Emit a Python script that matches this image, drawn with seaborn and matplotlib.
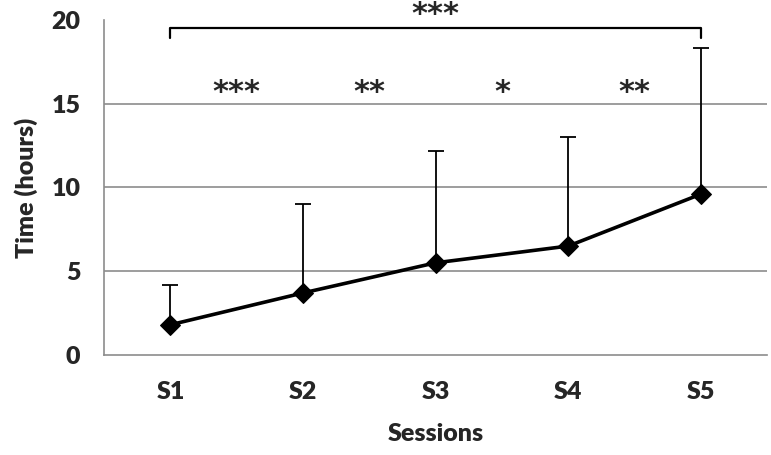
import numpy as np
import pandas as pd
import matplotlib
matplotlib.use("Agg")
import matplotlib.pyplot as plt
import seaborn as sns

# data
sessions = ["S1", "S2", "S3", "S4", "S5"]
mean_hours = [1.8, 3.7, 5.5, 6.5, 9.6]
upper_hours = [4.2, 9.0, 12.2, 13.0, 18.3]
pair_stars = ["***", "**", "*", "**"]
overall_star = "***"

sns.set_style("white")
plt.rcParams['font.family'] = ['Lato', 'DejaVu Sans']

df = pd.DataFrame({"Session": sessions, "Hours": mean_hours})

fig = plt.figure(figsize=(7.71, 4.55), dpi=100)
ax = fig.add_axes([0.135, 0.22, 0.86, 0.736])

# upward-only error bars
err_up = np.array(upper_hours) - np.array(mean_hours)
ax.errorbar(np.arange(len(sessions)), mean_hours, yerr=[np.zeros(len(sessions)), err_up],
            fmt="none", ecolor="black", elinewidth=1.3, capsize=6, capthick=1.3, zorder=3)

sns.lineplot(data=df, x="Session", y="Hours", ax=ax, color="black", linewidth=2.6,
             marker="D", markersize=10, markeredgecolor="black", sort=False, zorder=4)

ax.set_xlim(-0.5, len(sessions) - 0.5)
ax.set_ylim(0, 20)
ax.set_yticks([0, 5, 10, 15, 20])
for yv in [5, 10, 15]:
    ax.axhline(yv, color="#8c8c8c", linewidth=1.2, zorder=1)

# category boundaries as tick marks on x axis
ax.set_xticks(np.arange(len(sessions)))
ax.set_xticklabels(sessions, fontsize=18, fontweight="heavy")
ax.set_xticks(np.arange(-0.5, len(sessions)), minor=True)
ax.tick_params(axis="x", which="major", length=0, pad=19)
ax.tick_params(axis="x", which="minor", length=7, width=1.2, color="#8c8c8c", direction="out")
ax.tick_params(axis="y", which="major", length=7, width=1.2, color="#8c8c8c", direction="out",
               labelsize=18, pad=10)
for lab in ax.get_yticklabels():
    lab.set_fontweight("heavy")

for side in ["top", "right"]:
    ax.spines[side].set_visible(False)
for side in ["left", "bottom"]:
    ax.spines[side].set_color("#8c8c8c")
    ax.spines[side].set_linewidth(1.2)

ax.set_xlabel("Sessions", fontsize=18, fontweight="heavy", labelpad=14)
ax.set_ylabel("Time (hours)", fontsize=18, fontweight="heavy", labelpad=10)

# significance between consecutive sessions
for i, s in enumerate(pair_stars):
    ax.text(i + 0.5, 15.15, s, ha="center", va="baseline", fontsize=22, fontweight="bold",
            family="DejaVu Sans")

# overall S1 vs S5 bracket
ax.plot([0, 0, 4, 4], [18.9, 19.5, 19.5, 18.9], color="black", linewidth=1.6,
        clip_on=False, zorder=5)
ax.text(2, 19.8, overall_star, ha="center", va="baseline", fontsize=22, fontweight="bold",
        family="DejaVu Sans", clip_on=False)

fig.savefig("out.png", dpi=100)
